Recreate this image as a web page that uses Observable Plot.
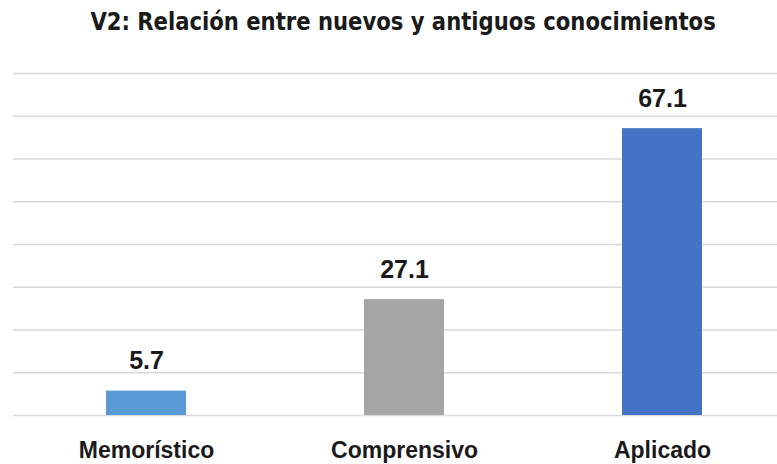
<!DOCTYPE html>
<html>
<head>
<meta charset="utf-8">
<script src="https://cdn.jsdelivr.net/npm/d3@7"></script>
<script src="https://cdn.jsdelivr.net/npm/@observablehq/plot@0.6"></script>
<style>
  html, body { margin: 0; padding: 0; background: #fff; }
  #wrap { width: 777px; height: 464px; position: relative; overflow: hidden; }
  #title {
    height: 50px; width: 777px; text-align: center;
    box-sizing: border-box; padding-top: 7px; padding-left: 29px;
  }
  #title span {
    display: inline-block; white-space: nowrap;
    font-family: "Liberation Sans Narrow", "DejaVu Sans Condensed", sans-serif;
    font-weight: bold; font-size: 24px; line-height: 30px; color: #1a1a1a;
    transform: scaleX(0.98); transform-origin: center;
  }
  svg { display: block; }
</style>
</head>
<body>
<div id="wrap">
  <div id="title"><span>V2: Relación entre nuevos y antiguos conocimientos</span></div>
  <div id="chart"></div>
</div>
<script>
const categories = ["Memorístico", "Comprensivo", "Aplicado"];
const values = [5.7, 27.1, 67.1];
const colors = ["#5B9BD5", "#A5A5A5", "#4472C4"];
const gridTicks = [0, 10, 20, 30, 40, 50, 60, 70, 80];

const data = categories.map((c, i) => ({category: c, value: values[i], color: colors[i]}));

const chart = Plot.plot({
  width: 777,
  height: 414,
  marginTop: 23,
  marginBottom: 49,
  marginLeft: 13,
  marginRight: 0,
  x: {domain: categories, range: [16.5, 790.5], paddingInner: 0.69, paddingOuter: 0.345, label: null},
  y: {domain: [0, 80], label: null, axis: null},
  style: {fontFamily: "'Liberation Sans', Arial, sans-serif"},
  marks: [
    Plot.ruleY(gridTicks, {stroke: "#d9d9d9", strokeWidth: 1.3}),
    Plot.barY(data, {x: "category", y: "value", fill: "color"}),
    Plot.text(data, {
      x: "category", y: "value", text: d => d.value.toFixed(1),
      lineAnchor: "bottom", dy: -22, fontSize: 25, fontWeight: "bold", fill: "#1a1a1a"
    }),
    Plot.axisX({tickSize: 0, tickPadding: 26, fontSize: 23, fontWeight: "bold", fill: "#1a1a1a", label: null})
  ]
});
document.getElementById("chart").appendChild(chart);
</script>
</body>
</html>
